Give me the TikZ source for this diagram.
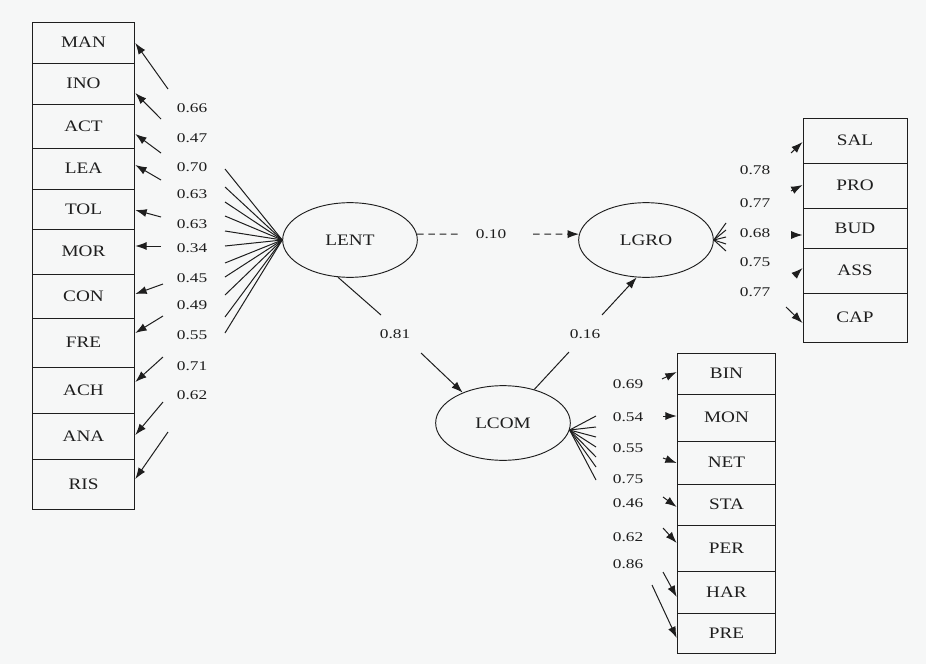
\documentclass[tikz,border=0pt]{standalone}
\usepackage{fontspec}
\setmainfont{Liberation Serif}
\newfontfamily\boxfont[FakeStretch=1.2]{Liberation Serif}
\newfontfamily\coeffont[FakeStretch=1.3]{Liberation Serif}
\usetikzlibrary{arrows.meta,shapes.geometric}
\definecolor{paper}{RGB}{246,247,247}
\definecolor{ink}{RGB}{30,30,30}
\tikzset{
    obs/.style={draw=ink, rectangle, inner sep=0pt, line width=0.7pt,
        font=\boxfont\fontsize{12}{14}\selectfont, text=ink},
    lat/.style={draw=ink, ellipse, minimum width=101pt, minimum height=56pt,
        inner sep=0pt, line width=0.7pt, font=\boxfont\fontsize{12}{14}\selectfont, text=ink},
    coef/.style={inner sep=0pt, font=\coeffont\fontsize{10}{12}\selectfont, text=ink},
    load/.style={draw=ink, line width=0.75pt},
    >={Latex[length=8.5pt,width=6pt]},
}
\begin{document}
\begin{tikzpicture}[x=0.75pt, y=-0.75pt]
    \fill[paper] (0,0) rectangle (926,664);
    \useasboundingbox (0,0) rectangle (926,664);
    % latent variables
    \node[lat] (LENT) at (350,240) {LENT};
    \node[lat] (LGRO) at (646,240) {LGRO};
    \node[lat] (LCOM) at (503,423) {LCOM};
    % LENT indicators
    \foreach \n/\t/\b/\sx/\sy/\ty/\fy in {MAN/22/63/168/89/43/169, INO/63/104/161/119/93/187,
            ACT/104/148/161/153/134/202, LEA/148/189/161/180/165/216, TOL/189/229/161/217/210/231,
            MOR/229/274/161/246/246/246, CON/274/318/163/284/294/263, FRE/318/367/163/316/333/277,
            ACH/367/413/163/357/382/295, ANA/413/459/163/402/435/317, RIS/459/509/168/432/479/333} {
        \node[obs, minimum width=77pt, minimum height={(\b-\t)*0.75pt}] (\n) at (83.5,{(\t+\b)/2}) {\n};
        \coordinate (s\n) at (\sx,\sy);
        \coordinate (f\n) at (225,\fy);
        \draw[load] (LENT.west) -- (f\n);
        \draw[load,->] (s\n) -- (\n.east |- 0,\ty);
    }
    \foreach \v/\y [count=\i] in {0.66/108, 0.47/138, 0.70/167, 0.63/194, 0.63/224, 0.34/248,
            0.45/278, 0.49/305, 0.55/335, 0.71/366, 0.62/395}
        \node[coef] (cl\i) at (192,\y) {\v};
    % LGRO indicators
    \foreach \n/\t/\b/\sx/\sy/\ty/\fy in {SAL/118/163/791/153/142/223, PRO/163/208/791/191/185/230,
            BUD/208/248/792/235/235/237, ASS/248/293/794/276/268/244, CAP/293/342/786/307/323/251} {
        \node[obs, minimum width=78pt, minimum height={(\b-\t)*0.75pt}] (\n) at (855,{(\t+\b)/2}) {\n};
        \coordinate (s\n) at (\sx,\sy);
        \coordinate (f\n) at (726,\fy);
        \draw[load] (LGRO.east) -- (f\n);
        \draw[load,->] (s\n) -- (\n.west |- 0,\ty);
    }
    \foreach \v/\y [count=\i] in {0.78/170, 0.77/203, 0.68/233, 0.75/262, 0.77/292}
        \node[coef] (cg\i) at (755,\y) {\v};
    % LCOM indicators
    \foreach \n/\t/\b/\sx/\sy/\ty/\fy in {BIN/353/394/662/379/372/416, MON/394/441/663/416/416/427,
            NET/441/484/663/458/463/437, STA/484/525/663/497/507/447, PER/525/571/663/528/543/457,
            HAR/571/613/663/572/597/467, PRE/613/653/652/585/638/480} {
        \node[obs, minimum width=74pt, minimum height={(\b-\t)*0.75pt}] (\n) at (726.5,{(\t+\b)/2}) {\n};
        \coordinate (s\n) at (\sx,\sy);
        \coordinate (f\n) at (596,\fy);
        \draw[load] (LCOM.-6) -- (f\n);
        \draw[load,->] (s\n) -- (\n.west |- 0,\ty);
    }
    \foreach \v/\y [count=\i] in {0.69/384, 0.54/417, 0.55/448, 0.75/479, 0.46/503, 0.62/537, 0.86/564}
        \node[coef] (cc\i) at (628,\y) {\v};
    % structural paths
    \coordinate (a1) at (458,234); \coordinate (a2) at (533,234);
    \draw[load, dash pattern=on 5pt off 3.5pt] (LENT.5) -- (a1);
    \node[coef] (p10) at (491,234) {0.10};
    \draw[load, dash pattern=on 5pt off 3.5pt, ->] (a2) -- (LGRO.175);
    \coordinate (b1) at (381,315); \coordinate (b2) at (421,353);
    \draw[load] (LENT.252) -- (b1);
    \node[coef] (p81) at (395,334) {0.81};
    \draw[load,->] (b2) -- (LCOM.143);
    \coordinate (c1) at (569,352); \coordinate (c2) at (602,315);
    \draw[load] (LCOM.47) -- (c1);
    \node[coef] (p16) at (585,334) {0.16};
    \draw[load,->] (c2) -- (LGRO.256);
\end{tikzpicture}
\end{document}
